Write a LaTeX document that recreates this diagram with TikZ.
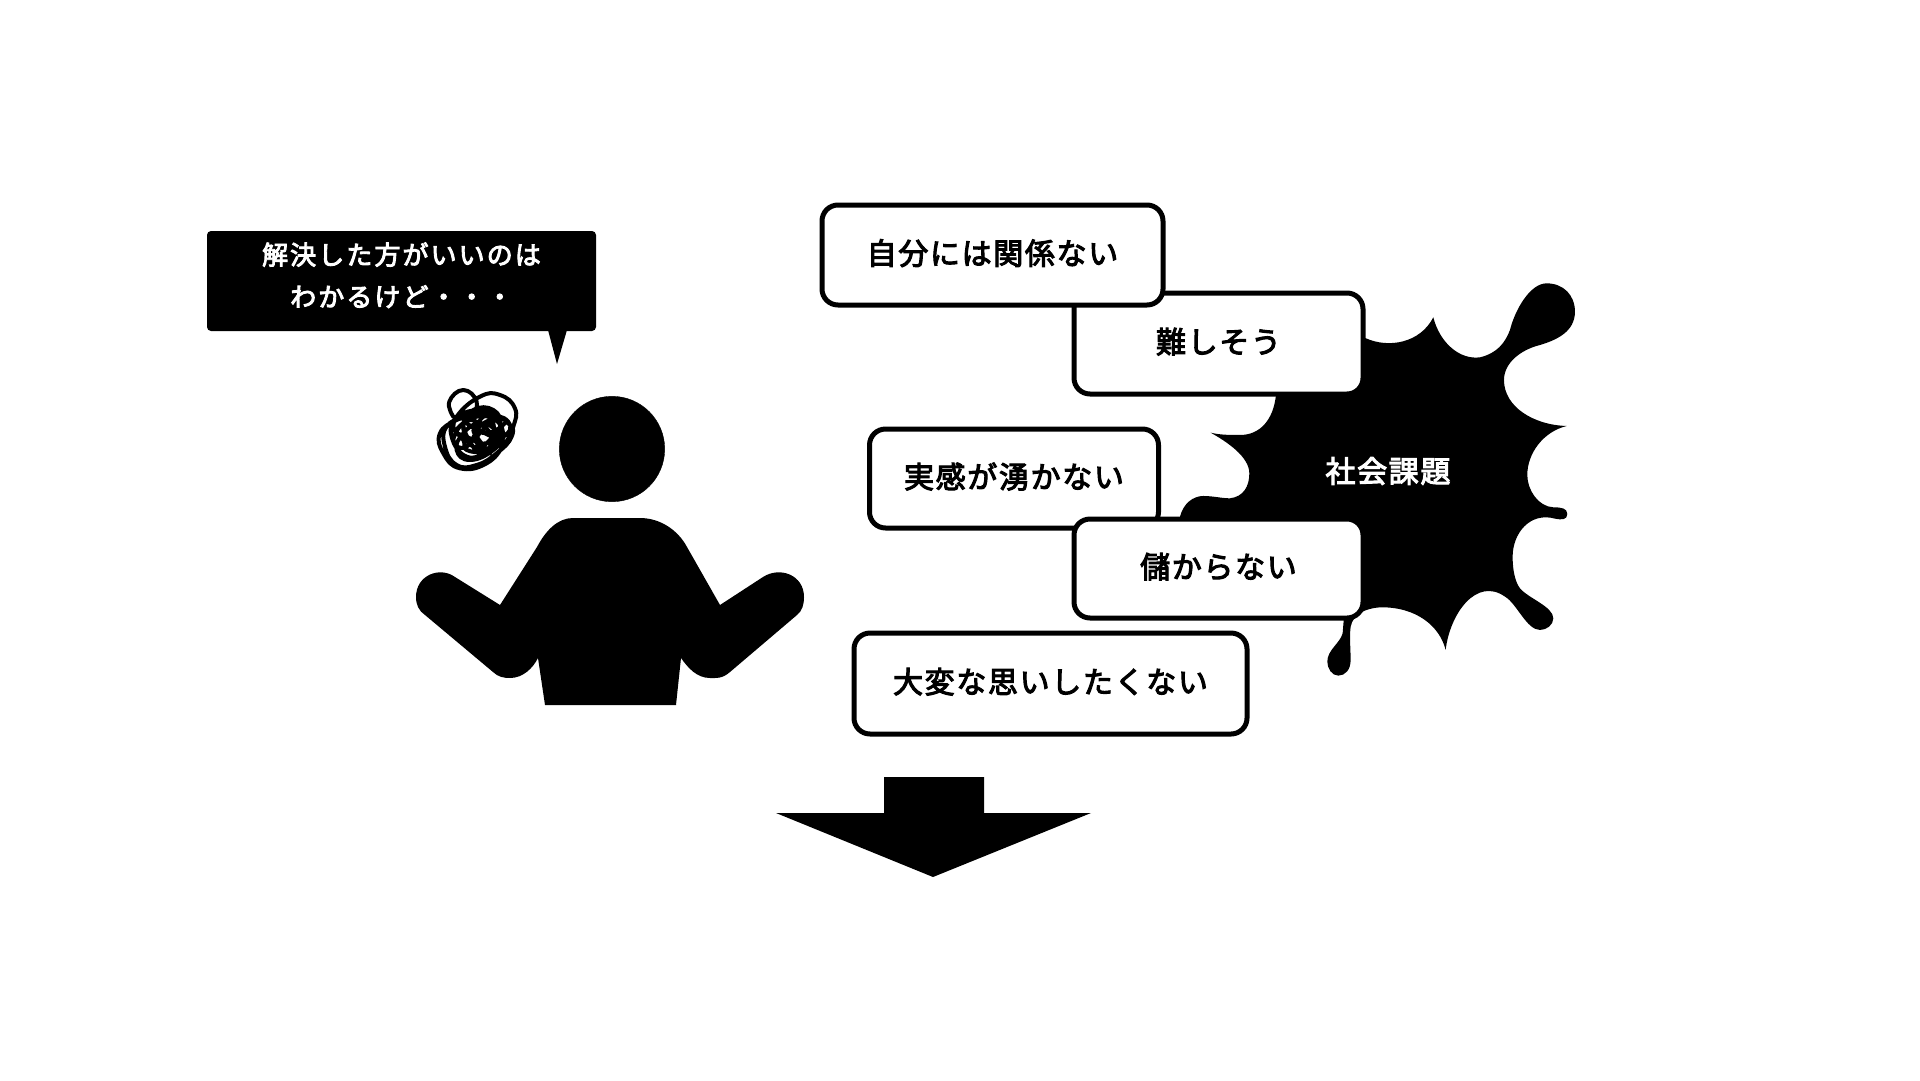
\documentclass[tikz,border=0pt]{standalone}
\usepackage{fontspec}
\newfontfamily\cjk[LetterSpace=5.5,FakeBold=3.5]{Noto Sans CJK JP}
\newfontfamily\cjkwide[LetterSpace=8,FakeBold=3.5]{Noto Sans CJK JP}
\tikzset{
    reason/.style={draw=black, fill=white, line width=5pt, rounded corners=16pt, inner sep=0pt, outer sep=0pt,
        text height=24pt, text depth=5pt, font=\cjk\fontsize{30}{36}\selectfont},
}
\begin{document}
\begin{tikzpicture}[x=1pt,y=-1pt]
    \useasboundingbox (0,0) rectangle (1920,1080);

    % 吹き出し
    \node[fill=black, text=white, rounded corners=4pt, inner sep=0pt, minimum width=389pt, minimum height=100pt, align=center,
        text depth=13pt, font=\cjkwide\fontsize{26}{42}\selectfont] (speech) at (401.5,281) {解決した方がいいのは\\わかるけど・・・};
    \fill (548,330) -- (567,330) -- (557,364) -- cycle;

    % もやもや
    \begin{scope}[shift={(200,220)}, scale=0.3333]
        \draw[line width=4pt, line cap=round, line join=round] plot[smooth, tension=0.8] coordinates {
            (760,590) (748,545) (790,510) (830,545) (812,590) (770,600) (720,640) (730,700) (780,745)
            (860,730) (915,670) (940,620) (945,565) (900,525) (840,530) (770,590) (755,650) (800,710)
            (860,690) (900,620) (880,570) (820,570) (790,620) (820,680) (870,660) (880,610) (850,590)
            (830,640) (850,690) (800,690) (790,660) (760,620) (790,580) (860,575) (925,610) (935,650)
            (890,700) (830,735) (770,735) (735,680) (740,620) (800,590) (870,590) (910,640) (880,690)
            (810,720) (770,690) (790,640) (840,610) (890,640) (860,700) (830,660) (860,620) (900,590)
            (930,630) (860,670) (800,650) (770,630) (830,590) (890,600) (900,660) (840,700) (790,610)
            (860,640) (920,600) (850,610) (800,680) (760,660) (810,600) (880,650) (820,630) (870,700)
        };
    \end{scope}

    % 人物
    \filldraw (612,449) circle (52.7pt);
    \fill (573,518) -- (640,518) .. controls (660,518) and (678,530) .. (687,547)
        -- (720,605) -- (763,577) .. controls (780,566) and (804,575) .. (804,597)
        .. controls (804,605) and (802,611) .. (797,615) -- (730,672)
        .. controls (722,679) and (716,678) .. (710,678) .. controls (697,678) and (688,668) .. (681,658)
        -- (676,705) -- (545,705) -- (538,658)
        .. controls (533,668) and (523,678) .. (510,678) .. controls (504,678) and (498,677) .. (493,672)
        -- (425,615) .. controls (419,611) and (416,605) .. (416,597)
        .. controls (416,575) and (440,566) .. (455,577) -- (500,605) -- (537,547)
        .. controls (546,530) and (558,518) .. (573,518) -- cycle;

    % 社会課題のしみ
    \begin{scope}[shift={(1140,260)}, scale=0.3333]
        \fill (640,225) -- (678,235) .. controls (745,265) and (840,250) .. (880,172)
            .. controls (900,250) and (960,300) .. (1020,292)
            .. controls (1070,280) and (1095,250) .. (1110,210)
            .. controls (1125,150) and (1170,70) .. (1220,70)
            .. controls (1270,70) and (1305,105) .. (1305,155)
            .. controls (1305,215) and (1250,240) .. (1200,255)
            .. controls (1140,270) and (1092,310) .. (1092,360)
            .. controls (1092,440) and (1180,495) .. (1280,498)
            .. controls (1210,515) and (1162,580) .. (1162,645)
            .. controls (1162,690) and (1195,740) .. (1240,742)
            .. controls (1265,742) and (1282,745) .. (1282,762)
            .. controls (1282,780) and (1265,780) .. (1245,776)
            .. controls (1170,755) and (1118,820) .. (1118,890)
            .. controls (1118,930) and (1125,965) .. (1140,985)
            .. controls (1165,1015) and (1240,1040) .. (1240,1075)
            .. controls (1240,1095) and (1220,1110) .. (1200,1110)
            .. controls (1160,1110) and (1130,1030) .. (1095,1010)
            .. controls (1010,950) and (930,1060) .. (917,1170)
            .. controls (900,1100) and (830,1040) .. (720,1042)
            .. controls (680,1045) and (640,1060) .. (632,1100)
            .. controls (628,1130) and (632,1170) .. (632,1200)
            .. controls (632,1230) and (615,1247) .. (595,1247)
            .. controls (575,1247) and (562,1225) .. (562,1205)
            .. controls (562,1170) and (600,1150) .. (608,1120)
            -- (612,1070) -- (120,1000) -- (120,770)
            .. controls (130,730) and (160,708) .. (190,708)
            .. controls (220,708) and (245,715) .. (270,715)
            .. controls (310,710) and (328,680) .. (328,640)
            .. controls (328,590) and (260,545) .. (212,518)
            .. controls (240,525) and (270,525) .. (300,525)
            .. controls (360,525) and (400,480) .. (408,405)
            -- (408,300) -- cycle;
    \end{scope}
    \node[text=white, font=\cjk\fontsize{30}{36}\selectfont] (issue) at (1388,471) {社会課題};

    % 理由
    \node[reason, minimum width=289pt, minimum height=101pt] (hard) at (1218.5,343.5) {難しそう};
    \node[reason, minimum width=341pt, minimum height=100pt] (unrelated) at (992.5,255) {自分には関係ない};
    \node[reason, minimum width=289pt, minimum height=99pt] (unreal) at (1014,478.5) {実感が湧かない};
    \node[reason, minimum width=289pt, minimum height=99pt] (noprofit) at (1218.5,568.5) {儲からない};
    \node[reason, minimum width=393pt, minimum height=101pt] (tough) at (1050.5,683.5) {大変な思いしたくない};

    % 下向き矢印
    \fill (884,777) -- (984,777) -- (984,813) -- (1091,813) -- (933,877) -- (776,813) -- (884,813) -- cycle;
\end{tikzpicture}
\end{document}
